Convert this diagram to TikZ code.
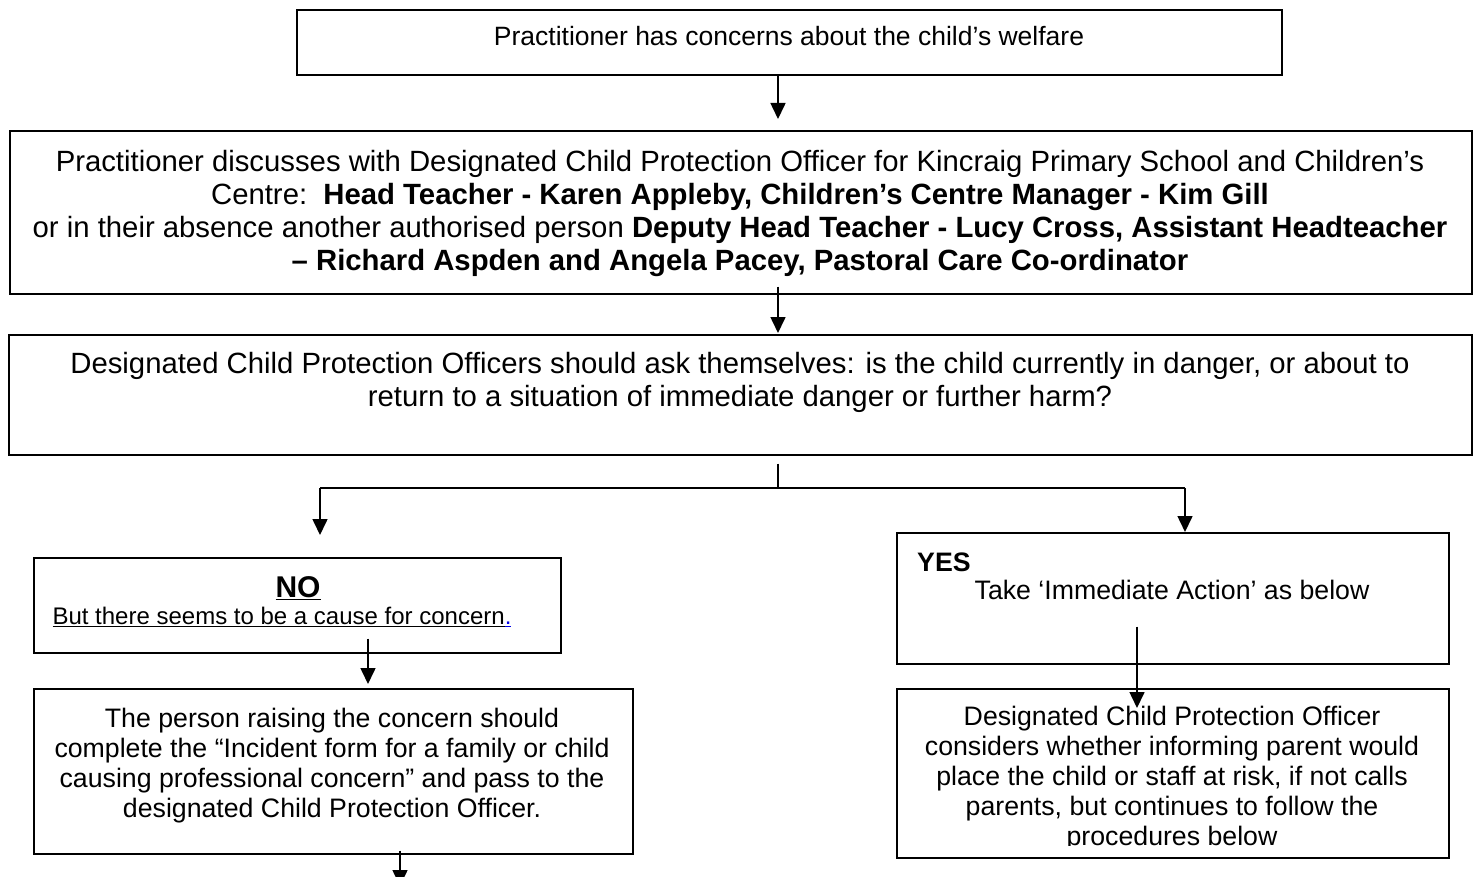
\documentclass[tikz,border=0pt]{standalone}
\usepackage{fontspec}
\setmainfont{Liberation Sans}
\usetikzlibrary{arrows.meta}
\definecolor{linkblue}{RGB}{0,0,230}
\begin{document}
\begin{tikzpicture}[x=1pt,y=-1pt,
  box/.style={draw,line width=1.6pt,inner sep=0pt,anchor=north west},
  ln/.style={line width=1.6pt},
  arr/.style={line width=1.6pt,-{Triangle[length=16pt,width=15pt]}},
  small/.style={font=\fontsize{26.7}{30}\selectfont,align=center,inner sep=0pt},
  big/.style={font=\fontsize{29.3}{33}\selectfont,align=center,inner sep=0pt}]
\path[use as bounding box] (0,0) rectangle (1482,877);
\clip (0,0) rectangle (1482,877);
\fill[white] (0,0) rectangle (1482,877);

% boxes
\node[box,minimum width=985pt,minimum height=65pt] (b1) at (296,9) {};
\node[box,minimum width=1462pt,minimum height=163pt] (b2) at (9,130) {};
\node[box,minimum width=1463pt,minimum height=120pt] (b3) at (8,334) {};
\node[box,minimum width=527pt,minimum height=95pt] (nobox) at (33,557) {};
\node[box,minimum width=599pt,minimum height=165pt] (b5) at (33,688) {};
\node[box,minimum width=552pt,minimum height=131pt] (yesbox) at (896,532) {};
\node[box,minimum width=552pt,minimum height=169pt] (b7) at (896,688) {};

% texts
\node[small,font=\fontsize{26.5}{30}\selectfont] (t1) at (789,36) {Practitioner has concerns about the child’s welfare};
\node[big] (t2) at (740,213) {Practitioner discusses with Designated Child Protection Officer for Kincraig Primary School and Children’s\\
Centre:\ \ \textbf{Head Teacher - Karen Appleby, Children’s Centre Manager - Kim Gill}\\
or in their absence another authorised person \textbf{Deputy Head Teacher - Lucy Cross, Assistant Headteacher}\\
\textbf{– Richard Aspden and Angela Pacey, Pastoral Care Co-ordinator}};
\node[big] (t3) at (740,382.5) {Designated Child Protection Officers should ask themselves: is the child currently in danger, or about to\\
return to a situation of immediate danger or further harm?};
\node[small,font=\fontsize{30}{33}\selectfont] (tno) at (298,588) {\textbf{\underline{NO}}};
\node[small,font=\fontsize{24}{30}\selectfont] (tno2) at (282,617) {\underline{But there seems to be a cause for concern}\textcolor{linkblue}{\underline{.}}};
\node[small] (t5) at (332,765.5) {The person raising the concern should\\
complete the “Incident form for a family or child\\
causing professional concern” and pass to the\\
designated Child Protection Officer.};
\node[small,anchor=west] (tyes) at (917,562) {\textbf{YES}};
\node[small] (tyes2) at (1172,590) {Take ‘Immediate Action’ as below};
\begin{scope}
\clip (896,688) rectangle (1448,845);
\node[small] (t7) at (1172,779) {Designated Child Protection Officer\\
considers whether informing parent would\\
place the child or staff at risk, if not calls\\
parents, but continues to follow the\\
procedures below};
\end{scope}

% connectors
\coordinate (xa) at (778,0);
\coordinate (split) at (778,488);
\coordinate (jl) at (320,488);
\coordinate (jr) at (1185,488);
\coordinate (xn) at (368,0);
\coordinate (xy) at (1137,0);
\coordinate (bend) at (400,886);
\draw[arr,shorten >=11pt] (b1.south -| xa) -- (b2.north -| xa);
\draw[arr,shorten <=-8pt,shorten >=1pt] (b2.south -| xa) -- (b3.north -| xa);
\draw[ln,shorten <=8pt] (b3.south -| xa) -- (split);
\draw[ln] (jl) -- (jr);
\draw[arr,shorten >=22pt] (jl) -- (nobox.north -| jl);
\draw[arr] (jr) -- (yesbox.north -| jr);
\draw[arr,shorten <=-15pt,shorten >=4pt] (nobox.south -| xn) -- (b5.north -| xn);
\draw[arr,shorten <=-38pt,shorten >=-20pt] (yesbox.south -| xy) -- (b7.north -| xy);
\draw[arr,shorten <=-4pt] (b5.south -| bend) -- (bend);
\end{tikzpicture}
\end{document}
